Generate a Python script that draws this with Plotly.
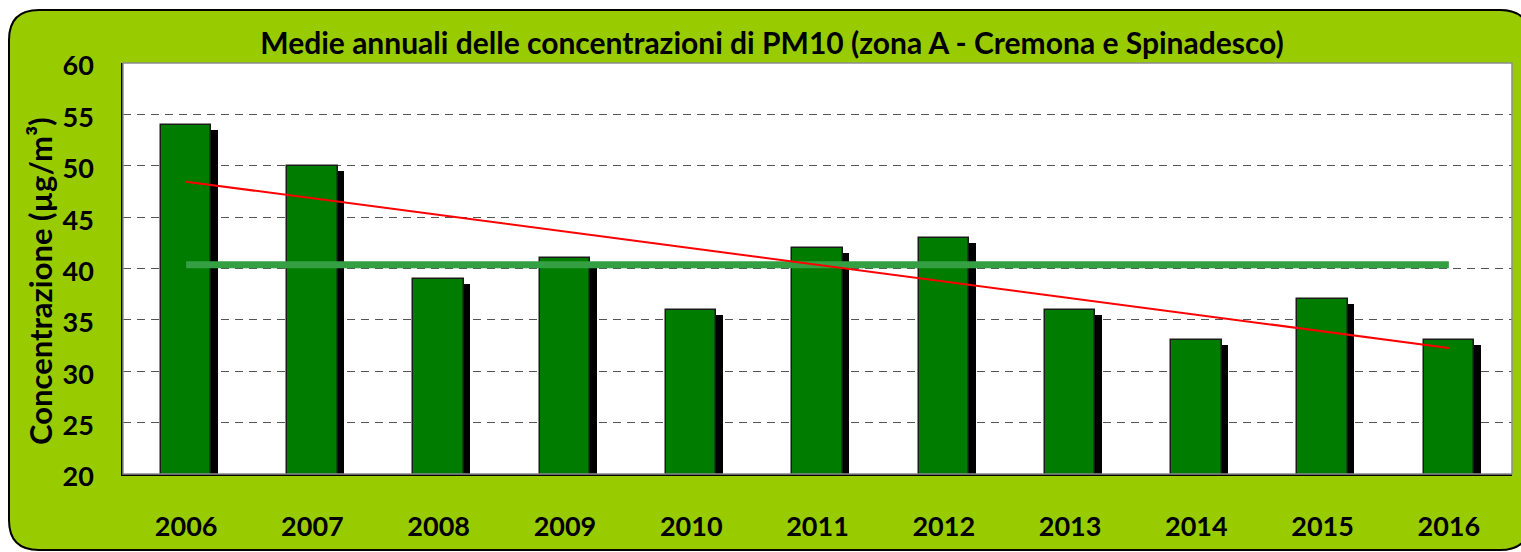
import plotly.graph_objects as go

# ---- data ----
years = ["2006", "2007", "2008", "2009", "2010", "2011", "2012", "2013", "2014", "2015", "2016"]
pm10 = [54, 50, 39, 41, 36, 42, 43, 36, 33, 37, 33]
trend_years = ["2006", "2016"]
trend_values = [48.45, 32.27]
mean_years = ["2006", "2016"]
mean_values = [40.36, 40.36]
title_text = "Medie annuali delle concentrazioni di PM10 (zona A - Cremona e Spinadesco)"
y_title = "Concentrazione (µg/m³)"

# ---- layout geometry ----
W, H = 1521, 552
L, R, T, B = 123, 9, 63, 78
pw, ph = W - L - R, H - T - B
y0, y1 = 20, 60
px_per_unit = ph / (y1 - y0)
cat_px = pw / len(years)

def fx(px):
    return (px - L) / pw

def fy(py):
    return (H - B - py) / ph

FONT = "Lato"
bar_w = 0.4
shadow_dx = 6.5 / cat_px
shadow_dy = 5 / px_per_unit

fig = go.Figure()

# shadow bars
fig.add_trace(go.Bar(
    x=years, y=[v - shadow_dy for v in pm10],
    width=bar_w, offset=-bar_w / 2 + shadow_dx,
    marker=dict(color="#000000", line=dict(width=0)),
    hoverinfo="skip", showlegend=False,
))
# main bars
fig.add_trace(go.Bar(
    x=years, y=pm10,
    width=bar_w, offset=-bar_w / 2,
    marker=dict(color="#007d00", line=dict(color="#1a1a1a", width=1.5)),
    showlegend=False,
))
# mean line
fig.add_trace(go.Scatter(
    x=mean_years, y=mean_values, mode="lines",
    line=dict(color="#35a043", width=7), showlegend=False,
))
# trend line
fig.add_trace(go.Scatter(
    x=trend_years, y=trend_values, mode="lines",
    line=dict(color="#ff0000", width=2), showlegend=False,
))

# rounded green frame
xl, xr, yt, yb, r = 9, 1530, 10, 550, 30
path = (
    f"M {fx(xl + r)},{fy(yt)} L {fx(xr - r)},{fy(yt)} "
    f"Q {fx(xr)},{fy(yt)} {fx(xr)},{fy(yt + r)} "
    f"L {fx(xr)},{fy(yb - r)} Q {fx(xr)},{fy(yb)} {fx(xr - r)},{fy(yb)} "
    f"L {fx(xl + r)},{fy(yb)} Q {fx(xl)},{fy(yb)} {fx(xl)},{fy(yb - r)} "
    f"L {fx(xl)},{fy(yt + r)} Q {fx(xl)},{fy(yt)} {fx(xl + r)},{fy(yt)} Z"
)
shapes = [
    dict(type="path", xref="paper", yref="paper", path=path,
         fillcolor="#99cc00", line=dict(color="#000000", width=2), layer="below"),
    dict(type="rect", xref="paper", yref="paper", x0=0, x1=1, y0=0, y1=1,
         fillcolor="#ffffff", line=dict(width=0), layer="below"),
    dict(type="rect", xref="paper", yref="paper", x0=0, x1=1, y0=0, y1=1,
         fillcolor="rgba(0,0,0,0)", line=dict(color="#8c8c8c", width=1.5), layer="above"),
]

fig.update_layout(
    width=W, height=H,
    margin=dict(l=L, r=R, t=T, b=B, pad=0, autoexpand=False),
    paper_bgcolor="#ffffff", plot_bgcolor="rgba(0,0,0,0)",
    barmode="overlay", bargap=0,
    shapes=shapes,
    title=dict(text=title_text, xref="container", yref="container",
               x=772 / W, y=1 - 43 / H, xanchor="center", yanchor="middle",
               font=dict(family=FONT, size=30, color="#000000", weight="bold")),
    annotations=[dict(text=y_title, xref="paper", yref="paper",
                      x=fx(40), y=fy(281), xanchor="center", yanchor="middle",
                      textangle=-90, showarrow=False,
                      font=dict(family=FONT, size=31, color="#000000", weight="bold"))],
    xaxis=dict(type="category", range=[-0.5, len(years) - 0.5], automargin=False,
               showgrid=False, showline=True, linecolor="#000000", linewidth=1.5,
               ticks="outside", ticklen=28, tickcolor="rgba(0,0,0,0)",
               tickfont=dict(family=FONT, size=27, color="#000000", weight="bold")),
    yaxis=dict(range=[y0, y1], dtick=5, tick0=20, automargin=False,
               showgrid=True, gridcolor="#555555", gridwidth=1, griddash="8px,6px",
               zeroline=False, showline=True, linecolor="#000000", linewidth=1.5,
               ticks="outside", ticklen=22, tickcolor="rgba(0,0,0,0)",
               ticklabelshift=3,
               tickfont=dict(family=FONT, size=27, color="#000000", weight="bold")),
)

fig.write_html("out.html", config={"displayModeBar": False},
               post_script="document.body.style.margin='0';")
